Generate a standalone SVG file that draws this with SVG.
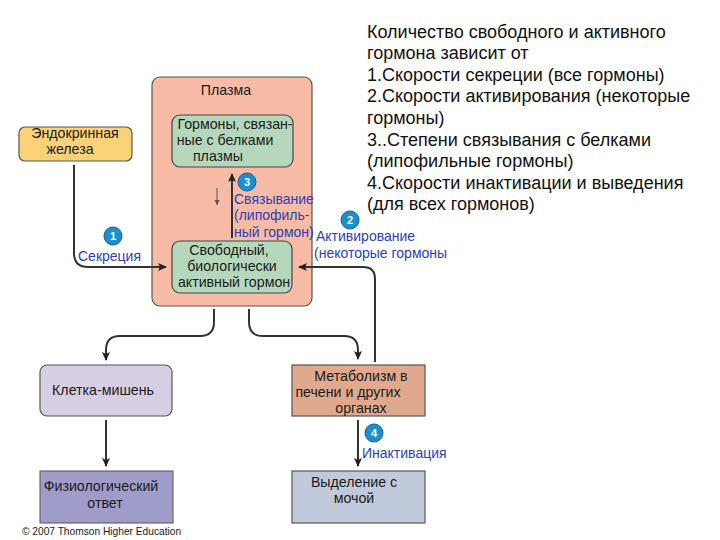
<svg xmlns="http://www.w3.org/2000/svg" width="720" height="540" viewBox="0 0 720 540">
<style>
text{font-family:"Liberation Sans",Arial,sans-serif;fill:#1a1a1a;font-size:14.2px}
.m{text-anchor:middle}
.b{fill:#2a3fb5;font-size:14px}
.n{fill:#fff;font-size:11px;font-weight:bold;text-anchor:middle}
.c{fill:#1c8fd0;stroke:#125f90;stroke-width:1}
.main{font-size:18px;fill:#111}
.l{fill:none;stroke:#333;stroke-width:2}
.cr{font-size:10.2px}
</style>
<defs>
<marker id="a" markerWidth="10" markerHeight="10" refX="8" refY="4" orient="auto" markerUnits="userSpaceOnUse"><path d="M0 0L9 4L0 8L2 4Z" fill="#222"/></marker>
<marker id="s" markerWidth="6" markerHeight="6" refX="5" refY="2.5" orient="auto" markerUnits="userSpaceOnUse"><path d="M0 0L5 2.5L0 5Z" fill="#555"/></marker>
</defs>
<rect width="720" height="540" fill="#fff"/>
<g id="plasma"><rect x="152" y="77" width="160" height="229" rx="8" fill="#f7bba6" stroke="#555" stroke-width="1.2"/><text class="m" x="226" y="95">Плазма</text></g>
<g id="bound"><rect x="172" y="115" width="121" height="52" rx="8" fill="#b5d8bc" stroke="#444" stroke-width="1.2"/><text class="m" x="235" y="129">Гормоны, связан-</text><text class="m" x="225" y="145">ные с белками</text><text class="m" x="218" y="161">плазмы</text></g>
<g id="free"><rect x="172" y="241" width="120" height="52" rx="8" fill="#b5d8bc" stroke="#444" stroke-width="1.2"/><text class="m" x="229" y="255">Свободный,</text><text class="m" x="232" y="271">биологически</text><text class="m" x="234" y="287">активный гормон</text></g>
<g id="gland"><rect x="19" y="127" width="113" height="34" rx="6" fill="#fbd277" stroke="#555" stroke-width="1.2"/><text class="m" x="75" y="138">Эндокринная</text><text class="m" x="70" y="154">железа</text></g>
<g id="target"><rect x="40" y="365" width="132" height="51" rx="7" fill="#d6cee3" stroke="#555" stroke-width="1.2"/><text class="m" x="103" y="395">Клетка-мишень</text></g>
<g id="response"><rect x="40" y="471" width="133" height="52" fill="#a09cc9" stroke="#555"/><text class="m" x="101" y="491">Физиологический</text><text class="m" x="105" y="508">ответ</text></g>
<g id="metabolism"><rect x="292" y="365" width="133" height="51" fill="#e0a98d" stroke="#555" stroke-width="1.2"/><text class="m" x="361" y="381">Метаболизм в</text><text class="m" x="348" y="397">печени и других</text><text class="m" x="361" y="413">органах</text></g>
<g id="excretion"><rect x="292" y="471" width="133" height="52" fill="#c0cadb" stroke="#555" stroke-width="1.2"/><text class="m" x="354" y="487">Выделение с</text><text class="m" x="354" y="503">мочой</text></g>
<g id="connectors">
<path class="l" d="M74 165V253Q74 267 88 267H166" marker-end="url(#a)"/>
<path class="l" d="M232 238V174" marker-end="url(#a)"/>
<path d="M217 188V205" fill="none" stroke="#555" stroke-width="1" marker-end="url(#s)"/>
<path class="l" d="M375 362V279Q375 267 363 267H299" marker-end="url(#a)"/>
<path class="l" d="M214 309V322Q214 336 200 336H120Q106 336 106 350V360" marker-end="url(#a)"/>
<path class="l" d="M249 309V322Q249 336 263 336H344Q358 336 358 350V359" marker-end="url(#a)"/>
<path class="l" d="M106 420V466" marker-end="url(#a)"/>
<path class="l" d="M358 420V466" marker-end="url(#a)"/>
</g>
<g id="label1"><circle class="c" cx="113" cy="236" r="9"/><text class="n" x="113" y="240">1</text><text class="b" x="78" y="261">Секреция</text></g>
<g id="label2"><circle class="c" cx="350" cy="220" r="9"/><text class="n" x="350" y="224">2</text><text class="b" x="316" y="241">Активирование</text><text class="b" x="314" y="258">(некоторые гормоны</text></g>
<g id="label3"><circle class="c" cx="247" cy="182" r="9"/><text class="n" x="247" y="186">3</text><text class="b" x="234" y="204">Связывание</text><text class="b" x="234" y="220">(липофиль-</text><text class="b" x="234" y="237">ный гормон)</text></g>
<g id="label4"><circle class="c" cx="374" cy="433" r="9"/><text class="n" x="374" y="437">4</text><text class="b" x="362" y="458">Инактивация</text></g>
<text class="cr" x="22" y="535">© 2007 Thomson Higher Education</text>
<g id="caption">
<text class="main" x="367" y="38">Количество свободного и активного</text>
<text class="main" x="367" y="59">гормона зависит от</text>
<text class="main" x="367" y="81">1.Скорости секреции (все гормоны)</text>
<text class="main" x="367" y="102">2.Скорости активирования (некоторые</text>
<text class="main" x="367" y="124">гормоны)</text>
<text class="main" x="367" y="146">3..Степени связывания с белками</text>
<text class="main" x="367" y="167">(липофильные гормоны)</text>
<text class="main" x="367" y="189">4.Скорости инактивации и выведения</text>
<text class="main" x="367" y="210">(для всех гормонов)</text>
</g>
</svg>
